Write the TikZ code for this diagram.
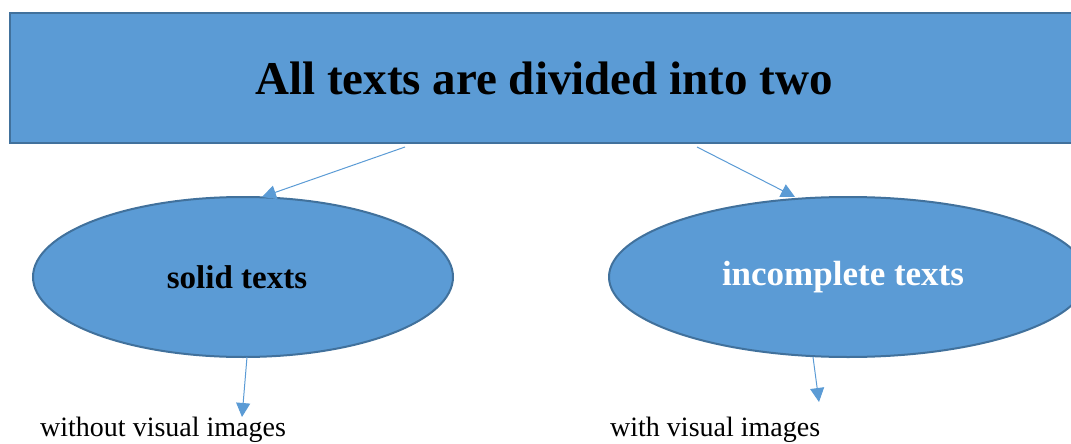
\documentclass[tikz,border=0pt]{standalone}
\usepackage{fontspec}
\setmainfont{Liberation Serif}
\usetikzlibrary{shapes.geometric,arrows.meta}
\definecolor{boxfill}{HTML}{5B9BD5}
\definecolor{boxline}{HTML}{41719C}
\tikzset{
  topbox/.style={draw=boxline,line width=2pt,fill=boxfill,rectangle,inner sep=0pt,
    minimum width=1068pt,minimum height=130pt,
    font=\fontsize{47}{52}\selectfont\bfseries},
  oval/.style={draw=boxline,line width=2pt,fill=boxfill,ellipse,inner sep=0pt,
    minimum width=420pt,minimum height=160pt},
  leaf/.style={anchor=base west,inner sep=0pt,font=\fontsize{28}{32}\selectfont},
  conn/.style={draw=boxfill,line width=1pt,-{Triangle[length=14pt,width=14pt]}}
}
\begin{document}
\begin{tikzpicture}[x=1pt,y=-1pt]
\useasboundingbox (0,0) rectangle (1071,444);
\clip (0,0) rectangle (1071,444);
\node[topbox] (top) at (544,78) {\raisebox{-2pt}{All texts are divided into two}};
\node[oval,font=\fontsize{33}{37}\selectfont\bfseries] (solid) at (243,277) {\hspace*{-6pt}\raisebox{-3pt}{solid texts}\hspace*{6pt}};
\node[oval,minimum width=478pt,text=white,font=\fontsize{35}{39}\selectfont\bfseries] (inc) at (848,277) {\hspace*{-5pt}\raisebox{-4pt}{incomplete texts}\hspace*{5pt}};
\node[leaf] (wo) at (40,436) {without visual images};
\node[leaf] (wi) at (610,436) {with visual images};
\coordinate (a1) at (405,147);
\coordinate (a1e) at (262,197);
\coordinate (a2) at (697,147);
\coordinate (a2e) at (795,197);
\coordinate (a3) at (247,357);
\coordinate (a3e) at (242,417);
\coordinate (a4) at (813,357);
\coordinate (a4e) at (819,402);
\draw[conn] (a1) -- (a1e);
\draw[conn] (a2) -- (a2e);
\draw[conn] (a3) -- (a3e);
\draw[conn] (a4) -- (a4e);
\end{tikzpicture}
\end{document}
